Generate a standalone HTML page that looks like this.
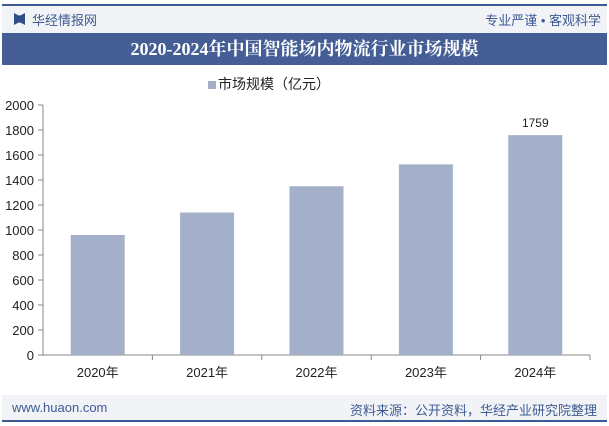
<!DOCTYPE html>
<html><head><meta charset="utf-8"><style>
body{margin:0;width:609px;height:426px;overflow:hidden;background:#fff;font-family:"Liberation Sans","Noto Sans CJK SC",sans-serif;position:relative}
.abs{position:absolute}
</style></head><body>
<div class="abs" style="left:2px;top:4px;width:605px;height:2px;background:#3d5a92"></div>
<div class="abs" style="left:2px;top:6px;width:605px;height:27px;background:#f1f3f7"></div>
<div class="abs" style="left:14px;top:13px;width:11px;height:12px;background:#2f4f8a;clip-path:polygon(0 0,40% 20%,60% 20%,100% 0,100% 100%,60% 80%,40% 80%,0 100%)"></div>
<div class="abs" style="left:32px;top:10px;font-size:13px;color:#3d5a92">华经情报网</div>
<div class="abs" style="right:8px;top:10px;font-size:13px;color:#3d5a92">专业严谨 • 客观科学</div>
<div class="abs" style="left:2px;top:33px;width:605px;height:32px;background:#455f96;color:#fff;font-size:18px;font-weight:bold;text-align:center;line-height:32px;font-family:'Liberation Serif','Noto Serif CJK SC',serif">2020-2024年中国智能场内物流行业市场规模</div>
<div class="abs" style="left:208px;top:74px;font-size:14px;color:#222"><span style="display:inline-block;width:8px;height:8px;background:#a4b0c9;margin-right:2px"></span>市场规模（亿元）</div>
<svg class="abs" style="left:0;top:0" width="609" height="426" id="chart"></svg>
<div class="abs" style="left:2px;top:395px;width:605px;height:25px;background:#f1f3f7"></div>
<div class="abs" style="left:12px;top:400px;font-size:13px;color:#3d5a92">www.huaon.com</div>
<div class="abs" style="right:12px;top:400px;font-size:13px;color:#3d5a92">资料来源：公开资料，华经产业研究院整理</div>
<div class="abs" style="left:2px;top:420px;width:605px;height:2px;background:#3d5a92"></div>
<script>
const categories=["2020年","2021年","2022年","2023年","2024年"];
const values=[960,1140,1350,1525,1759];
const ticks=[0,200,400,600,800,1000,1200,1400,1600,1800,2000];
const labelShown=[false,false,false,false,true];
const svg=document.getElementById('chart');const NS='http://www.w3.org/2000/svg';
const x0=43,x1=590,y0=355,y1=105;
const y=v=>y0-(v/2000)*(y0-y1);
const band=(x1-x0)/categories.length;
function mk(t,a){const e=document.createElementNS(NS,t);for(const k in a)e.setAttribute(k,a[k]);svg.appendChild(e);return e;}
ticks.forEach(t=>{
const e=mk('text',{x:34,y:y(t)+5,'text-anchor':'end','font-size':'13',fill:'#222'});e.textContent=t;


const l=mk('line',{x1:38,x2:43,y1:y(t),y2:y(t),stroke:'#888'});


});
const ax=mk('line',{x1:43,x2:43,y1:y1,y2:y0,stroke:'#888'});


const bx=mk('line',{x1:x0,x2:x1,y1:y0,y2:y0,stroke:'#888'});


categories.forEach((c,i)=>{
const cx=x0+band*(i+0.5);
const r=mk('rect',{x:cx-27,y:y(values[i]),width:54,height:y0-y(values[i]),fill:'#a4b0c9'});


const tk=mk('line',{x1:x0+band*(i+1),x2:x0+band*(i+1),y1:y0,y2:y0+5,stroke:'#888'});


const t=mk('text',{x:cx,y:y0+22,'text-anchor':'middle','font-size':'13',fill:'#222'});t.textContent=c;


if(labelShown[i]){const v=mk('text',{x:cx,y:y(values[i])-8,'text-anchor':'middle','font-size':'12',fill:'#222'});v.textContent=values[i];

}
});
</script>
</body></html>
